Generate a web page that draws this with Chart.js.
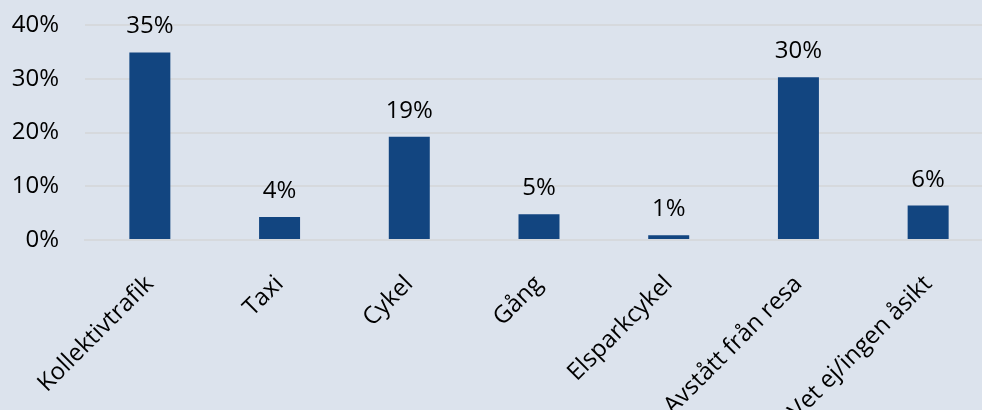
<!DOCTYPE html>
<html>
<head>
<meta charset="utf-8">
<script src="https://cdn.jsdelivr.net/npm/chart.js@4"></script>
<style>
  html, body { margin: 0; padding: 0; overflow: hidden; background: #dce3ed; }
  #chart { display: block; }
</style>
</head>
<body>
<canvas id="chart" width="994" height="410"></canvas>
<script>
'use strict';

var categories = ['Kollektivtrafik', 'Taxi', 'Cykel', 'Gång', 'Elsparkcykel', 'Avstått från resa', 'Vet ej/ingen åsikt'];
var shares = [34.9, 4.3, 19.2, 4.8, 0.9, 30.3, 6.4];
var yTicks = [0, 10, 20, 30, 40];

var font = 'Open Sans';

// draws the % value above each bar
var valueLabels = {
  id: 'valueLabels',
  afterDatasetsDraw: function(chart) {
    var ctx = chart.ctx;
    var meta = chart.getDatasetMeta(0);
    ctx.save();
    ctx.font = '24px "' + font + '"';
    ctx.fillStyle = '#000';
    ctx.textAlign = 'center';
    ctx.textBaseline = 'alphabetic';
    meta.data.forEach(function(bar, i) {
      ctx.fillText(Math.round(shares[i]) + '%', bar.x, bar.y - 19);
    });
    ctx.restore();
  }
};

var ctx = document.getElementById('chart').getContext('2d');
var myChart = new Chart(ctx, {
  type: 'bar',
  data: {
    labels: categories,
    datasets: [{
      data: shares,
      backgroundColor: '#124580',
      barPercentage: 0.316,
      categoryPercentage: 1
    }]
  },
  options: {
    responsive: false,
    animation: false,
    devicePixelRatio: 1,
    layout: { padding: { top: 25, right: 1, left: 0, bottom: 0 } },
    plugins: { legend: { display: false }, tooltip: { enabled: false } },
    scales: {
      x: {
        grid: { display: false, drawTicks: false },
        border: { display: true, color: '#d6d9dd', width: 2 },
        ticks: {
          color: '#000',
          font: { family: font, size: 24 },
          maxRotation: 45,
          minRotation: 45,
          padding: 30
        },
        afterFit: function(scale) { scale.height = 170; }
      },
      y: {
        min: 0,
        max: 40,
        afterBuildTicks: function(scale) {
          scale.ticks = yTicks.map(function(v) { return { value: v }; });
        },
        grid: { color: '#d6d9dd', lineWidth: 2, drawTicks: false },
        border: { display: false },
        ticks: {
          color: '#000',
          font: { family: font, size: 24 },
          padding: 26,
          callback: function(v) { return v + '%'; }
        },
        afterFit: function(scale) {
          scale.width = 85;
          scale.paddingTop = 0;
          scale.paddingBottom = 0;
        }
      }
    }
  },
  plugins: [valueLabels]
});
</script>
</body>
</html>
